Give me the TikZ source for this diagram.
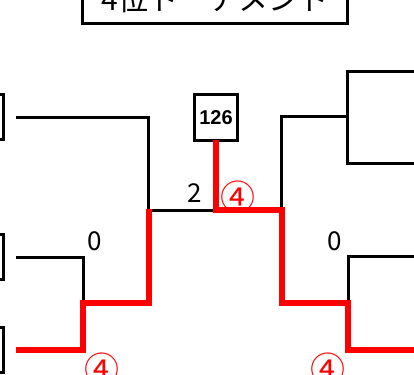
\documentclass[tikz,border=0pt]{standalone}
\usepackage{fontspec}
\newfontfamily\jp{Noto Sans CJK JP}
\newfontfamily\lib{Liberation Sans}
\begin{document}
\begin{tikzpicture}[x=1pt,y=-1pt,
  wire/.style={line width=3pt, draw=black},
  win/.style={line width=6pt, draw=red},
  teambox/.style={draw, line width=3pt, minimum width=40pt, minimum height=45pt, anchor=east, outer sep=0pt, inner sep=0pt},
  titlebox/.style={draw, line width=3pt, minimum width=265.3pt, minimum height=48.6pt, outer sep=0pt, inner sep=0pt, font=\jp\fontsize{30pt}{32pt}\selectfont},
  scorebox/.style={draw, line width=3pt, minimum width=43pt, minimum height=46pt, outer sep=0pt, inner sep=0pt, font=\lib\bfseries\fontsize{20pt}{22pt}\selectfont},
  score/.style={inner sep=0pt, font=\jp\fontsize{26pt}{28pt}\selectfont},
  wscore/.style={inner sep=0pt, text=red, font=\jp\fontsize{35pt}{37pt}\selectfont}
]
\useasboundingbox (0,0) rectangle (414,374);
\clip (0,0) rectangle (414,374);

% title
\node[titlebox] (title) at (215,-1) {4位トーナメント};

% team boxes (left, mostly off-page)
\node[teambox] (t1) at (3.5,117.5) {};
\node[teambox] (t2) at (3.5,257) {};
\node[teambox] (t3) at (3.5,349.5) {};

% score box
\node[scorebox] (sc) at (216,117.5) {126};

% junctions
\coordinate (jL1) at (148.5,210);
\coordinate (jL2) at (83,303);
\coordinate (cR) at (281.5,210);
\coordinate (jRU) at (347,117);
\coordinate (jR2) at (348,303);
\coordinate (r1) at (416,72);
\coordinate (r2) at (416,163);
\coordinate (r3) at (416,350);
\coordinate (r4) at (416,256.5);

% black wires
\draw[wire, shorten <=12.5pt] (t1.east) -| (jL1);
\draw[wire] (jL1) -- (sc.south |- jL1);
\draw[wire, shorten <=12.5pt] (t2.east) -| (jL2);
\draw[wire] (cR) |- (jRU);
\draw[wire] (r1) -| (jRU);
\draw[wire] (r2) -| (jRU);
\draw[wire] (r4) -| (jR2);

% winning path
\draw[win, shorten <=12.5pt, shorten >=-1.5pt] (t3.east) -| (jL2) -| (jL1);
\draw[win] (sc.south) |- (cR) |- (jR2) |- (r3);

% labels
\node[score] (n2) at (195,193.5) {2};
\node[score] (n0l) at (95,241) {0};
\node[score] (n0r) at (335,241) {0};
\node[wscore] (w1) at (238,197) {④};
\node[wscore] (w2) at (102,369) {④};
\node[wscore] (w3) at (328,369) {④};
\end{tikzpicture}
\end{document}
